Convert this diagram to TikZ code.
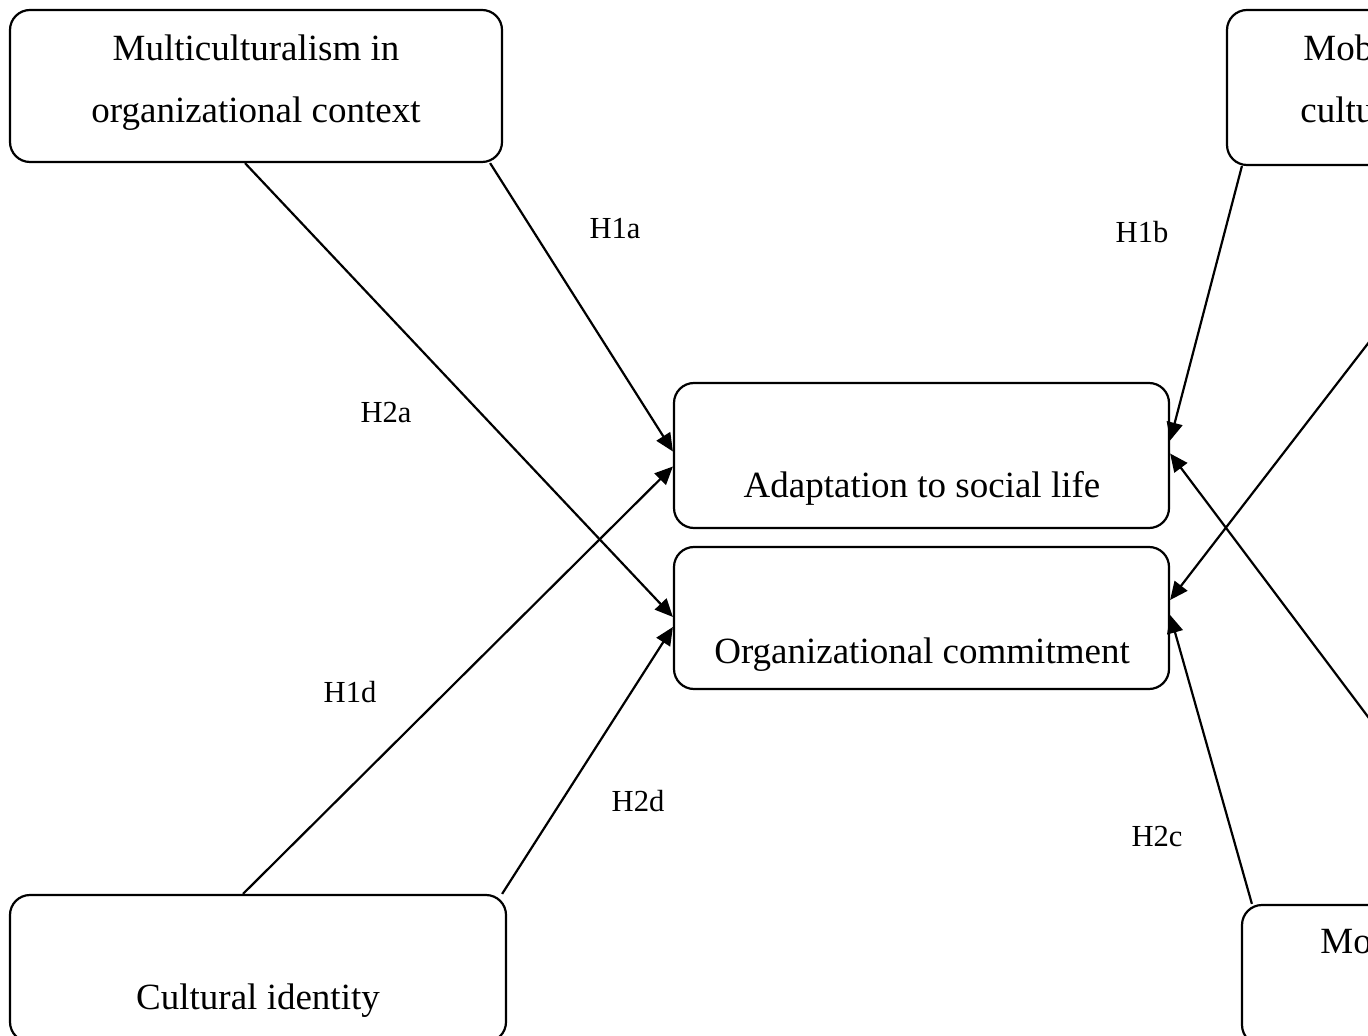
\documentclass[tikz,border=0pt]{standalone}
\usepackage{fontspec}
\setmainfont{Liberation Serif}
\usetikzlibrary{arrows.meta,calc}
\tikzset{
  box/.style={draw,line width=1.1pt,rounded corners=10pt,inner sep=0pt},
  txt/.style={font=\fontsize{18.5}{22}\selectfont,anchor=base,inner sep=0pt},
  lbl/.style={font=\fontsize{15.3}{18}\selectfont,anchor=base,inner sep=0pt},
  arr/.style={line width=1.1pt,-{Triangle[length=9pt,width=8pt]}}
}
\begin{document}
\begin{tikzpicture}[x=0.5pt,y=-0.5pt]
\useasboundingbox (0,0) rectangle (1368,1036);
\clip (0,0) rectangle (1368,1036);
% boxes
\node [box,minimum width=246pt,minimum height=76pt] (multi) at (256,86) {};
\node [box,minimum width=246pt,minimum height=77.5pt] (mob) at (1473,87.5) {};
\node [box,minimum width=247.5pt,minimum height=72.5pt] (adapt) at (921.5,455.5) {};
\node [box,minimum width=247.5pt,minimum height=71pt] (orgcom) at (921.5,618) {};
\node [box,minimum width=248pt,minimum height=73.5pt] (cultid) at (258,968.5) {};
\node [box,minimum width=247.5pt,minimum height=70pt] (mo) at (1489.5,975) {};
% box texts
\node [txt] (multia) at (256,61) {Multiculturalism in};
\node [txt] (multib) at (256,123) {organizational context};
\node [txt,anchor=base west] (moba) at (1303,61) {Mob};
\node [txt,anchor=base west] (mobb) at (1300,123) {cultu};
\node [txt] (adapttxt) at (922,497) {Adaptation to social life};
\node [txt] (orgcomtxt) at (922,663) {Organizational commitment};
\node [txt] (cultidtxt) at (258,1009) {Cultural identity};
\node [txt,anchor=base west] (motxt) at (1320,953) {Mo};
% outside sources
\coordinate (srcup) at (1420,276);
\coordinate (srcdown) at (1420,786);
% paths
\draw [arr] ($(multi.south east)+(-13,0)$) -- ($(adapt.west)+(0,-4)$);
\draw [arr] ($(multi.south)+(-11,0)$) -- ($(orgcom.west)+(0,-1)$);
\draw [arr] ($(cultid.north)+(-15,0)$) -- ($(adapt.west)+(0,11)$);
\draw [arr] ($(cultid.north east)+(-5,0)$) -- ($(orgcom.west)+(0,9)$);
\draw [arr] ($(mob.south west)+(16,0)$) -- ($(adapt.east)+(0,-15)$);
\draw [arr] (srcdown) -- ($(adapt.east)+(0,-2)$);
\draw [arr] (srcup) -- ($(orgcom.east)+(0,-18)$);
\draw [arr] ($(mo.north west)+(11,0)$) -- ($(orgcom.east)+(0,-3)$);
% labels
\node [lbl] (h1a) at (615,239) {H1a};
\node [lbl] (h1b) at (1142,243) {H1b};
\node [lbl] (h2a) at (386,423) {H2a};
\node [lbl] (h1d) at (350,702) {H1d};
\node [lbl] (h2d) at (638,811) {H2d};
\node [lbl] (h2c) at (1157,846) {H2c};
\end{tikzpicture}
\end{document}
